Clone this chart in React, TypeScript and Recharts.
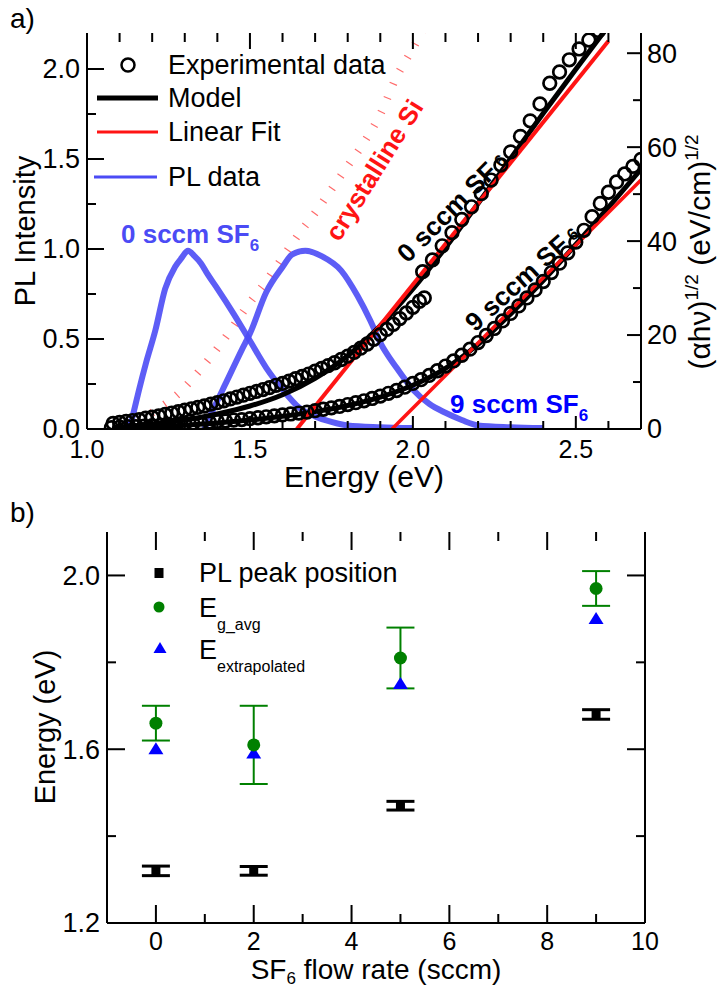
import React from 'react';
import { ComposedChart, Line, Scatter, XAxis, YAxis, ErrorBar } from 'recharts';

const FONT = '"Liberation Sans", Arial, Helvetica, sans-serif';

// ---------- panel (a): absorption + PL ----------
const energyTicks = [1.0, 1.1, 1.2, 1.3, 1.4, 1.5, 1.6, 1.7, 1.8, 1.9, 2.0, 2.1, 2.2, 2.3, 2.4, 2.5, 2.6, 2.7];
const energyMajor = [1.0, 1.5, 2.0, 2.5];
const plTicks = [0, 0.25, 0.5, 0.75, 1.0, 1.25, 1.5, 1.75, 2.0];
const plMajor = [0, 0.5, 1.0, 1.5, 2.0];
const absTicks = [0, 10, 20, 30, 40, 50, 60, 70, 80];
const absMajor = [0, 20, 40, 60, 80];
const ABS_MAX = 84.3;

// experimental (alpha h nu)^1/2, 0 sccm, low-energy range
const exp0Low: [number, number][] = [
  [1.08, 1.2], [1.10, 1.4], [1.12, 1.6], [1.14, 1.8], [1.16, 2.0], [1.18, 2.3], [1.20, 2.5], [1.22, 2.8],
  [1.24, 3.1], [1.26, 3.4], [1.28, 3.7], [1.30, 4.0], [1.32, 4.3], [1.34, 4.6], [1.36, 4.9], [1.38, 5.3],
  [1.40, 5.6], [1.42, 6.0], [1.44, 6.4], [1.46, 6.8], [1.48, 7.2], [1.50, 7.6], [1.52, 8.0], [1.54, 8.4],
  [1.56, 8.8], [1.58, 9.3], [1.60, 9.7], [1.62, 10.2], [1.64, 10.7], [1.66, 11.2], [1.68, 11.7], [1.70, 12.3],
  [1.72, 12.9], [1.74, 13.5], [1.76, 14.1], [1.78, 14.8], [1.80, 15.5], [1.82, 16.3], [1.84, 17.2], [1.86, 18.1],
  [1.88, 19.1], [1.90, 20.1], [1.92, 21.2], [1.94, 22.3], [1.96, 23.5], [1.98, 24.7], [2.00, 25.9], [2.02, 27.2],
  [2.035, 27.9],
];
// 0 sccm, high-energy range
const exp0High: [number, number][] = [
  [2.03, 33.5], [2.06, 36.0], [2.09, 39.0], [2.12, 41.8], [2.15, 44.6], [2.18, 47.3], [2.21, 50.1], [2.24, 53.0],
  [2.27, 56.2], [2.30, 59.0], [2.33, 62.3], [2.36, 65.6], [2.39, 69.2], [2.42, 73.6], [2.45, 76.0], [2.48, 78.6],
  [2.51, 80.9], [2.54, 82.8], [2.57, 84.8], [2.60, 86.5],
];
// 9 sccm
const exp9: [number, number][] = [
  [1.075, 0.3], [1.10, 0.4], [1.125, 0.5], [1.15, 0.5], [1.175, 0.6], [1.20, 0.7], [1.225, 0.8], [1.25, 0.9],
  [1.275, 1.0], [1.30, 1.1], [1.325, 1.2], [1.35, 1.3], [1.375, 1.5], [1.40, 1.6], [1.425, 1.7], [1.45, 1.9],
  [1.475, 2.0], [1.50, 2.2], [1.525, 2.4], [1.55, 2.6], [1.575, 2.8], [1.60, 3.0], [1.625, 3.2], [1.65, 3.4],
  [1.675, 3.6], [1.70, 3.9], [1.725, 4.2], [1.75, 4.5], [1.775, 4.8], [1.80, 5.2], [1.825, 5.6], [1.85, 6.0],
  [1.875, 6.5], [1.90, 7.0], [1.925, 7.6], [1.95, 8.2], [1.975, 8.9], [2.00, 9.7], [2.025, 10.5], [2.05, 11.4],
  [2.075, 12.4], [2.10, 13.4], [2.125, 14.5], [2.15, 15.7], [2.175, 17.0], [2.20, 18.4], [2.225, 19.9], [2.25, 21.4],
  [2.275, 23.0], [2.30, 24.6], [2.325, 26.2], [2.35, 27.9], [2.375, 29.6], [2.40, 31.4], [2.425, 33.3], [2.45, 35.3],
  [2.475, 37.5], [2.50, 39.8], [2.525, 42.3], [2.55, 45.2], [2.575, 48.0], [2.60, 50.4], [2.625, 52.6], [2.65, 54.3],
  [2.675, 55.9], [2.70, 57.4],
];

const model0: [number, number][] = [
  [1.08, 0.3], [1.2, 1.0], [1.3, 1.9], [1.4, 3.2], [1.5, 4.9], [1.6, 7.3], [1.7, 10.8], [1.8, 15.6],
  [1.9, 22.0], [2.0, 29.8], [2.1, 38.6], [2.2, 48.0], [2.3, 57.6], [2.4, 67.2], [2.5, 76.6], [2.6, 85.8],
];
const model9: [number, number][] = [
  [1.08, 0], [1.2, 0.4], [1.3, 0.8], [1.4, 1.3], [1.5, 1.9], [1.6, 2.7], [1.7, 3.7], [1.8, 5.0],
  [1.9, 6.8], [2.0, 9.3], [2.1, 12.9], [2.2, 18.0], [2.3, 24.5], [2.4, 31.6], [2.5, 39.3], [2.6, 47.2], [2.7, 55.3],
];
const fit0: [number, number][] = [[1.644, 0], [2.60, 82.6]];
const fit9: [number, number][] = [[1.936, 0], [2.70, 53.0]];

const crystallineSi: [number, number][] = [
  [1.12, 0], [1.20, 3.5], [1.28, 7.5], [1.34, 12], [1.42, 19], [1.49, 26], [1.55, 31.5], [1.60, 36.5],
  [1.65, 41.5], [1.70, 46], [1.75, 51], [1.80, 56], [1.85, 61], [1.90, 67], [1.95, 75], [2.00, 81], [2.04, 86],
];

const pl0: [number, number][] = [
  [1.13, 0], [1.14, 0.07], [1.16, 0.22], [1.18, 0.36], [1.21, 0.55], [1.24, 0.78], [1.27, 0.9], [1.29, 0.95],
  [1.31, 0.99], [1.33, 0.96], [1.35, 0.92], [1.37, 0.86], [1.40, 0.78], [1.45, 0.64], [1.50, 0.49], [1.55, 0.34],
  [1.60, 0.22], [1.65, 0.12], [1.70, 0.07], [1.75, 0.04], [1.80, 0.02], [1.90, 0.01], [2.00, 0.005],
];
const pl9: [number, number][] = [
  [1.36, 0], [1.38, 0.08], [1.43, 0.27], [1.475, 0.44], [1.50, 0.53], [1.55, 0.76], [1.60, 0.9], [1.63, 0.97],
  [1.67, 0.99], [1.72, 0.96], [1.78, 0.88], [1.83, 0.74], [1.87, 0.6], [1.90, 0.48], [1.95, 0.34], [2.00, 0.22],
  [2.05, 0.14], [2.10, 0.09], [2.15, 0.05], [2.20, 0.02], [2.30, 0.01], [2.40, 0.005],
];

// ---------- panel (b): energies vs SF6 flow ----------
const flowTicks = [0, 1, 2, 3, 4, 5, 6, 7, 8, 9, 10];
const flowMajor = [0, 2, 4, 6, 8, 10];
const energyBTicks = [1.2, 1.4, 1.6, 1.8, 2.0];
const energyBMajor = [1.2, 1.6, 2.0];
const EB_MIN = 1.2;
const EB_MAX = 2.1;

const flowRates = [0, 2, 5, 9];
const plPeak = [1.32, 1.32, 1.47, 1.68];
const plPeakErr = [0.011, 0.01, 0.01, 0.011];
const egAvg = [1.66, 1.61, 1.81, 1.97];
const egAvgErr = [0.04, 0.09, 0.07, 0.04];
const eExtrap = [1.60, 1.59, 1.75, 1.90];

const pts = (arr: [number, number][]) => arr.map(([e, v]) => ({ e, v }));
const isMajor = (major: number[], v: number) => major.some((m) => Math.abs(m - v) < 1e-9);

type Side = 'bottom' | 'left' | 'right';

// y ticks point inward; recharts hands us the label position, the axis line sits `gap` away from it.
// x axes only get labels here, their marks come from tickMarks() below.
function inTick(side: Side, major: number[], gap: number, longLen: number, shortLen: number, fmt?: (v: number) => string, fontSize = 27) {
  return (props: any) => {
    const x = Number(props.x);
    const y = Number(props.y);
    const v = Number(props.payload.value);
    const big = isMajor(major, v);
    const len = big ? longLen : shortLen;
    const label = fmt && big ? fmt(v) : null;
    const tx = { fontFamily: FONT, fontSize, fill: '#000' };
    if (side === 'bottom') {
      return <g>{label && <text x={x} y={y} dy="0.35em" textAnchor="middle" {...tx}>{label}</text>}</g>;
    }
    if (side === 'left') {
      return (
        <g>
          <rect x={x + gap} y={y - 1} width={len} height={2} fill="#000" />
          {label && <text x={x} y={y} dy="0.35em" textAnchor="end" {...tx}>{label}</text>}
        </g>
      );
    }
    return (
      <g>
        <rect x={x - gap - len} y={y - 1} width={len} height={2} fill="#000" />
        {label && <text x={x} y={y} dy="0.35em" textAnchor="start" {...tx}>{label}</text>}
      </g>
    );
  };
}

// vertical tick marks placed through the chart scales; dir 1 = rises from the bottom frame, -1 = hangs from the top
function tickMarks(key: string, major: number[], longLen: number, shortLen: number, dir: 1 | -1) {
  return (p: any) => {
    const v = Number(p.payload?.[key] ?? p[key]);
    const len = isMajor(major, v) ? longLen : shortLen;
    const top = dir === 1 ? p.cy - len : p.cy;
    return <rect x={p.cx - 1} y={top} width={2} height={len} fill="#000" />;
  };
}

const one = (v: number) => v.toFixed(1);
const int = (v: number) => String(v);
const axisLine = { stroke: '#000', strokeWidth: 2 };

const openCircle = (p: any) => (
  <circle cx={p.cx} cy={p.cy} r={6.3} fill="none" stroke="#000" strokeWidth={2.7} />
);
const square = (p: any) => <rect x={p.cx - 4.5} y={p.cy - 5} width={9} height={10} fill="#000" />;
const dot = (p: any) => <circle cx={p.cx} cy={p.cy} r={6.5} fill="#008000" />;
const triangle = (p: any) => (
  <polygon points={`${p.cx},${p.cy - 7} ${p.cx - 7.5},${p.cy + 5} ${p.cx + 7.5},${p.cy + 5}`} fill="#0000ff" />
);

function PanelA() {
  const bottomMarks = energyTicks.map((e) => ({ e, v: 0 }));
  const topMarks = energyTicks.map((e) => ({ e, v: ABS_MAX }));
  return (
    <ComposedChart width={720} height={495} margin={{ top: 33, right: 0, bottom: 26, left: 0 }}>
      <XAxis xAxisId="e" type="number" dataKey="e" domain={[1.0, 2.7]} allowDataOverflow ticks={energyTicks}
        interval={0} height={40} tickSize={0} tickMargin={20} tickLine={false} axisLine={axisLine}
        tick={inTick('bottom', energyMajor, 20, 0, 0, one, 25)} />
      <XAxis xAxisId="top" orientation="top" type="number" dataKey="e" domain={[1.0, 2.7]} allowDataOverflow
        height={0} tick={false} tickLine={false} axisLine={axisLine} />
      <YAxis yAxisId="pl" type="number" dataKey="v" domain={[0, 2.2]} allowDataOverflow ticks={plTicks} interval={0}
        width={87} tickSize={0} tickMargin={7} tickLine={false} axisLine={axisLine}
        tick={inTick('left', plMajor, 7, 17, 9, one, 27)} />
      <YAxis yAxisId="abs" orientation="right" type="number" dataKey="v" domain={[0, ABS_MAX]} allowDataOverflow
        ticks={absTicks} interval={0} width={79} tickSize={0} tickMargin={6} tickLine={false} axisLine={axisLine}
        tick={inTick('right', absMajor, 6, 14, 8, int, 27)} />

      <Line xAxisId="e" yAxisId="abs" data={pts(crystallineSi)} dataKey="v" type="monotone" stroke="#ff6a6a"
        strokeWidth={8} strokeDasharray="1.2 14" dot={false} activeDot={false} isAnimationActive={false} />
      <Line xAxisId="e" yAxisId="pl" data={pts(pl0)} dataKey="v" type="monotone" stroke="#4b4bf5" strokeOpacity={0.9}
        strokeWidth={6} dot={false} activeDot={false} isAnimationActive={false} />
      <Line xAxisId="e" yAxisId="pl" data={pts(pl9)} dataKey="v" type="monotone" stroke="#4b4bf5" strokeOpacity={0.9}
        strokeWidth={6} dot={false} activeDot={false} isAnimationActive={false} />
      <Line xAxisId="e" yAxisId="abs" data={pts(model0)} dataKey="v" type="monotone" stroke="#000"
        strokeWidth={5} dot={false} activeDot={false} isAnimationActive={false} />
      <Line xAxisId="e" yAxisId="abs" data={pts(model9)} dataKey="v" type="monotone" stroke="#000"
        strokeWidth={5} dot={false} activeDot={false} isAnimationActive={false} />
      <Line xAxisId="e" yAxisId="abs" data={pts(fit0)} dataKey="v" type="linear" stroke="#ff1414"
        strokeWidth={4} dot={false} activeDot={false} isAnimationActive={false} />
      <Line xAxisId="e" yAxisId="abs" data={pts(fit9)} dataKey="v" type="linear" stroke="#ff1414"
        strokeWidth={3.5} dot={false} activeDot={false} isAnimationActive={false} />
      <Scatter xAxisId="e" yAxisId="abs" data={pts(exp0Low)} shape={openCircle} isAnimationActive={false} />
      <Scatter xAxisId="e" yAxisId="abs" data={pts(exp0High)} shape={openCircle} isAnimationActive={false} />
      <Scatter xAxisId="e" yAxisId="abs" data={pts(exp9)} shape={openCircle} isAnimationActive={false} />

      <Scatter xAxisId="e" yAxisId="abs" data={bottomMarks} shape={tickMarks('e', energyMajor, 13, 8, 1)} isAnimationActive={false} />
      <Scatter xAxisId="e" yAxisId="abs" data={topMarks} shape={tickMarks('e', energyMajor, 16, 9, -1)} isAnimationActive={false} />
    </ComposedChart>
  );
}

function PanelB() {
  const peak = flowRates.map((x, i) => ({ x, y: plPeak[i], err: plPeakErr[i] }));
  const avg = flowRates.map((x, i) => ({ x, y: egAvg[i], err: egAvgErr[i] }));
  const extrap = flowRates.map((x, i) => ({ x, y: eExtrap[i] }));
  const bottomMarks = flowTicks.map((x) => ({ x, y: EB_MIN }));
  const topMarks = flowTicks.map((x) => ({ x, y: EB_MAX }));
  return (
    <ComposedChart width={720} height={493} margin={{ top: 37, right: 0, bottom: 20, left: 0 }}>
      <XAxis xAxisId="f" type="number" dataKey="x" domain={[-1, 10]} allowDataOverflow ticks={flowTicks}
        interval={0} height={45} tickSize={0} tickMargin={18} tickLine={false} axisLine={axisLine}
        tick={inTick('bottom', flowMajor, 18, 0, 0, int, 25)} />
      <XAxis xAxisId="top" orientation="top" type="number" dataKey="x" domain={[-1, 10]} allowDataOverflow
        height={0} tick={false} tickLine={false} axisLine={axisLine} />
      <YAxis yAxisId="en" type="number" dataKey="y" domain={[EB_MIN, EB_MAX]} allowDataOverflow ticks={energyBTicks}
        interval={0} width={107} tickSize={0} tickMargin={7} tickLine={false} axisLine={axisLine}
        tick={inTick('left', energyBMajor, 7, 18, 9, one, 27)} />
      <YAxis yAxisId="mirror" orientation="right" type="number" dataKey="y" domain={[EB_MIN, EB_MAX]} allowDataOverflow
        ticks={energyBTicks} interval={0} width={75} tickSize={0} tickMargin={0} tickLine={false} axisLine={axisLine}
        tick={inTick('right', energyBMajor, 0, 18, 9)} />

      <Scatter xAxisId="f" yAxisId="en" data={extrap} shape={triangle} isAnimationActive={false} />
      <Scatter xAxisId="f" yAxisId="en" data={avg} shape={dot} isAnimationActive={false}>
        <ErrorBar dataKey="err" direction="y" width={14} stroke="#008000" strokeWidth={2} isAnimationActive={false} />
      </Scatter>
      <Scatter xAxisId="f" yAxisId="en" data={peak} shape={square} isAnimationActive={false}>
        <ErrorBar dataKey="err" direction="y" width={14} stroke="#000" strokeWidth={3} isAnimationActive={false} />
      </Scatter>

      <Scatter xAxisId="f" yAxisId="en" data={bottomMarks} shape={tickMarks('x', flowMajor, 18, 9, 1)} isAnimationActive={false} />
      <Scatter xAxisId="f" yAxisId="en" data={topMarks} shape={tickMarks('x', flowMajor, 18, 9, -1)} isAnimationActive={false} />
    </ComposedChart>
  );
}

function Annotations() {
  const t = { fontFamily: FONT, fill: '#000' };
  return (
    <svg width={720} height={988} style={{ position: 'absolute', left: 0, top: 0, pointerEvents: 'none' }}>
      {/* panel (a) */}
      <text x={10} y={28} fontSize={28} {...t}>a)</text>
      <text x={364} y={487} fontSize={30} textAnchor="middle" {...t}>Energy (eV)</text>
      <text transform="translate(35,231) rotate(-90)" fontSize={29} textAnchor="middle" {...t}>PL Intensity</text>
      <text transform="translate(710,252) rotate(-90)" fontSize={30} textAnchor="middle" {...t}>
        (αhν)<tspan dy={-12} fontSize={19}>1/2</tspan><tspan dy={12}> (eV/cm)</tspan><tspan dy={-12} fontSize={19}>1/2</tspan>
      </text>

      <circle cx={128} cy={65} r={6.5} fill="none" stroke="#000" strokeWidth={2.5} />
      <text x={168} y={65} dy="0.35em" fontSize={27} {...t}>Experimental data</text>
      <line x1={97} x2={158} y1={98} y2={98} stroke="#000" strokeWidth={5} />
      <text x={168} y={98} dy="0.35em" fontSize={27} {...t}>Model</text>
      <line x1={97} x2={158} y1={132} y2={132} stroke="#ff1414" strokeWidth={3} />
      <text x={168} y={132} dy="0.35em" fontSize={27} {...t}>Linear Fit</text>
      <line x1={94} x2={157} y1={177} y2={177} stroke="#4b4bf5" strokeWidth={3} />
      <text x={168} y={177} dy="0.35em" fontSize={27} {...t}>PL data</text>

      <text x={121} y={243} fontSize={26} fontWeight="bold" fontFamily={FONT} fill="#4b4bf5">
        0 sccm SF<tspan dy={8} fontSize={17}>6</tspan>
      </text>
      <text x={450} y={413} fontSize={26} fontWeight="bold" fontFamily={FONT} fill="#0000ff">
        9 sccm SF<tspan dy={8} fontSize={17}>6</tspan>
      </text>
      <text transform="translate(452,207) rotate(-45)" textAnchor="middle" dy="0.35em" fontSize={26} fontWeight="bold" {...t}>
        0 sccm SF<tspan dx={5} dy={-2} fontSize={17}>6</tspan>
      </text>
      <text transform="translate(522,278) rotate(-42)" textAnchor="middle" dy="0.35em" fontSize={26} fontWeight="bold" {...t}>
        9 sccm SF<tspan dx={5} dy={-2} fontSize={17}>6</tspan>
      </text>
      <text transform="translate(374,170) rotate(-58)" textAnchor="middle" dy="0.35em" fontSize={26} fontWeight="bold"
        fontFamily={FONT} fill="#ff1414">crystalline Si</text>

      {/* panel (b) */}
      <text x={10} y={522} fontSize={28} {...t}>b)</text>
      <text transform="translate(55,727) rotate(-90)" fontSize={29} textAnchor="middle" {...t}>Energy (eV)</text>
      <text x={376} y={979} fontSize={28} textAnchor="middle" {...t}>
        SF<tspan dy={5} fontSize={17}>6</tspan><tspan dy={-5}> flow rate (sccm)</tspan>
      </text>

      <rect x={154.5} y={568} width={9} height={10} fill="#000" />
      <text x={199} y={573} dy="0.35em" fontSize={27} {...t}>PL peak position</text>
      <circle cx={159} cy={607} r={5.5} fill="#008000" />
      <text x={199} y={608} dy="0.35em" fontSize={27} {...t}>
        E<tspan dy={13} fontSize={16}>g_avg</tspan>
      </text>
      <polygon points="160,642 153.5,653 166.5,653" fill="#0000ff" />
      <text x={199} y={650} dy="0.35em" fontSize={27} {...t}>
        E<tspan dy={13} fontSize={16}>extrapolated</tspan>
      </text>
    </svg>
  );
}

export default function App() {
  return (
    <div style={{ position: 'absolute', left: 0, top: 0, width: 720, height: 988, background: '#fff' }}>
      <PanelA />
      <PanelB />
      <Annotations />
    </div>
  );
}
